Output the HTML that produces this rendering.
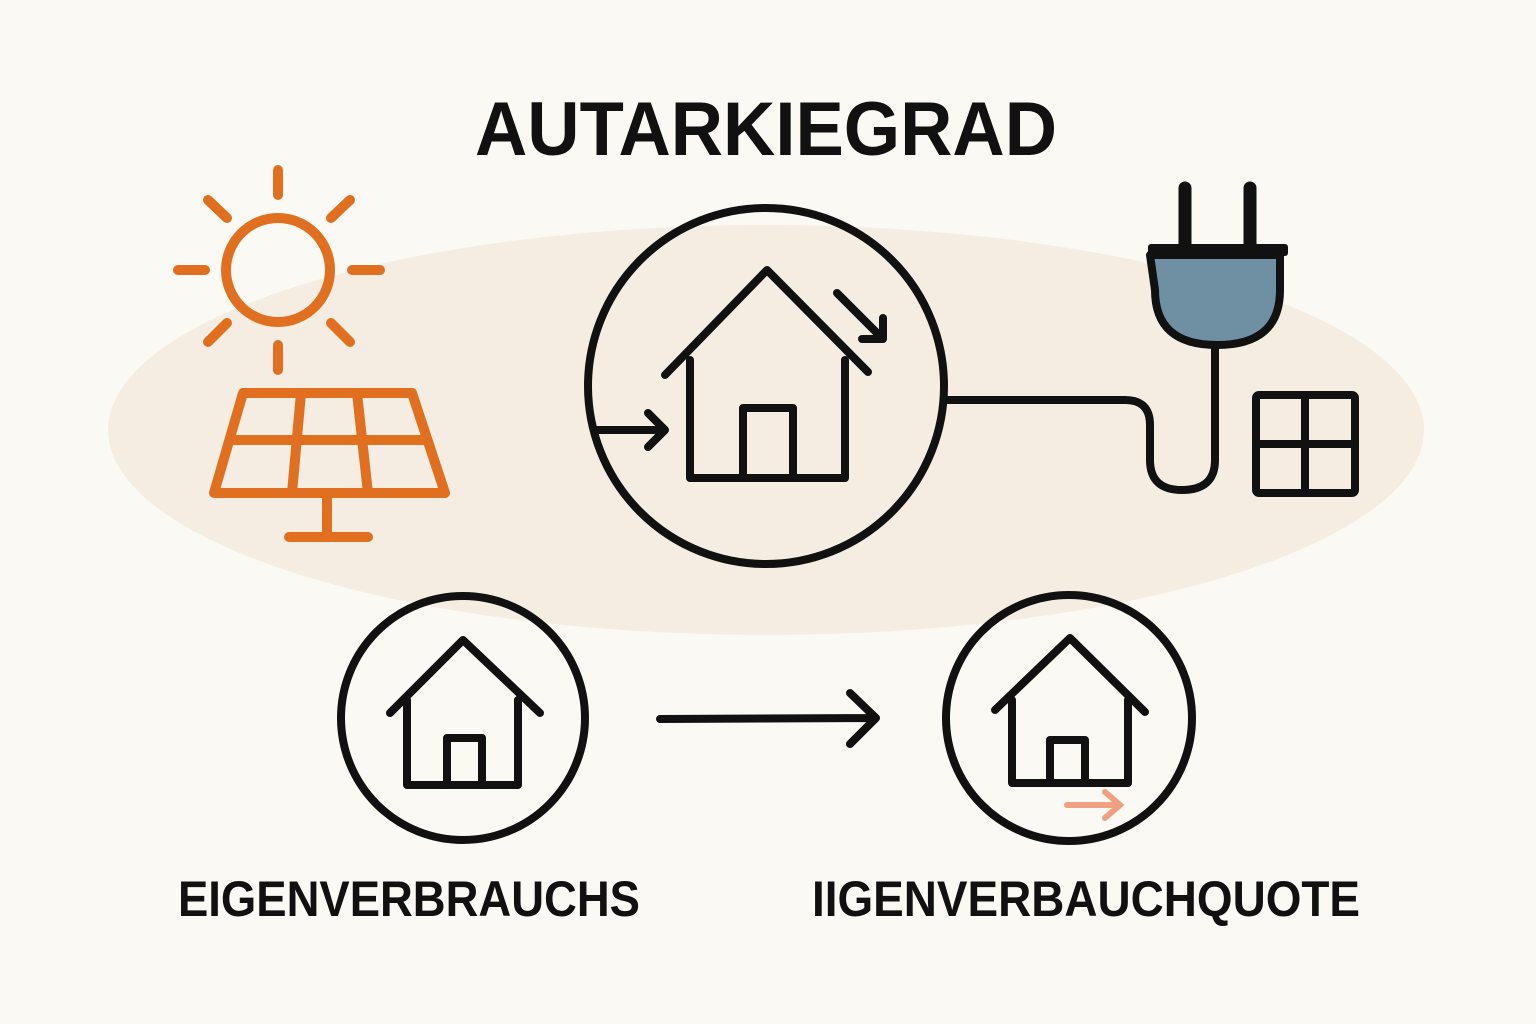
<!DOCTYPE html>
<html><head><meta charset="utf-8"><style>
html,body{margin:0;padding:0;background:#fbf9f4;}
svg{display:block}
text{font-family:"Liberation Sans",sans-serif;font-weight:bold;fill:#111}
</style></head><body>
<svg width="1536" height="1024" viewBox="0 0 1536 1024" xmlns="http://www.w3.org/2000/svg">
<rect width="1536" height="1024" fill="#fbf9f4"/>
<ellipse cx="766" cy="430" rx="658" ry="205" fill="#f6ede2"/>
<text x="475" y="155" font-size="76" textLength="582" lengthAdjust="spacingAndGlyphs">AUTARKIEGRAD</text>
<g stroke="#e07020" stroke-width="10" stroke-linecap="round" fill="none">
<circle cx="278" cy="270" r="52"/>
<line x1="278" y1="170" x2="278" y2="195"/><line x1="278" y1="345" x2="278" y2="370"/>
<line x1="178" y1="270" x2="205" y2="270"/><line x1="352" y1="270" x2="380" y2="270"/>
<line x1="208" y1="200" x2="227" y2="218"/><line x1="350" y1="200" x2="331" y2="218"/>
<line x1="208" y1="342" x2="227" y2="323"/><line x1="350" y1="342" x2="331" y2="323"/>
<path d="M243 393 L412 393 L445 493 L214 493 Z" stroke-linejoin="round"/>
<line x1="233" y1="440" x2="425" y2="440"/>
<line x1="301" y1="393" x2="292" y2="493"/><line x1="357" y1="393" x2="368" y2="493"/>
<line x1="327" y1="497" x2="327" y2="537"/><line x1="289" y1="537" x2="368" y2="537"/>
</g>
<g stroke="#111" stroke-width="8" fill="none" stroke-linecap="round" stroke-linejoin="round">
<circle cx="766" cy="386" r="178"/>
<path d="M665 375 L767 270 L868 372"/>
<path d="M690 360 L690 478 L845 478 L845 360"/>
<path d="M743 478 L743 408 L793 408 L793 478"/>
<path d="M597 430 L665 430 M648 413 L665 430 L648 447"/>
<path d="M837 293 L883 339 M883 318 L883 339 L862 339"/>
<path d="M945 400 L1125 400 Q1150 400 1150 425 L1150 460 Q1150 490 1182 490 Q1215 490 1215 460 L1215 345"/>
<path d="M1185 188 L1185 245 M1250 188 L1250 245" stroke-width="13"/>
<rect x="1256" y="395" width="99" height="98" rx="3"/>
<line x1="1305" y1="395" x2="1305" y2="493"/><line x1="1256" y1="444" x2="1355" y2="444"/>
<circle cx="463" cy="718" r="122"/>
<path d="M390 713 L463 640 L540 713"/>
<path d="M407 700 L407 785 L518 785 L518 700"/>
<path d="M447 785 L447 738 L482 738 L482 785"/>
<path d="M660 719 L876 718 M850 693 L876 718 L850 744"/>
<circle cx="1069" cy="718" r="123"/>
<path d="M995 710 L1070 638 L1145 712"/>
<path d="M1012 700 L1012 783 L1128 783 L1128 700"/>
<path d="M1050 783 L1050 740 L1085 740 L1085 783"/>
</g>
<path d="M1150 255 L1280 255 L1280 290 Q1280 345 1217 345 Q1155 345 1155 290 Z" fill="#6f8fa3" stroke="#111" stroke-width="8" stroke-linejoin="round"/>
<rect x="1148" y="244" width="140" height="12" rx="3" fill="#111"/>
<path d="M1067 805 L1120 805 M1105 792 L1120 805 L1105 818" stroke="#f0a080" stroke-width="6" fill="none" stroke-linecap="round"/>
<text x="178" y="916" font-size="50" textLength="462" lengthAdjust="spacingAndGlyphs">EIGENVERBRAUCHS</text>
<text x="812" y="916" font-size="50" textLength="548" lengthAdjust="spacingAndGlyphs">IIGENVERBAUCHQUOTE</text>
</svg>
</body></html>
